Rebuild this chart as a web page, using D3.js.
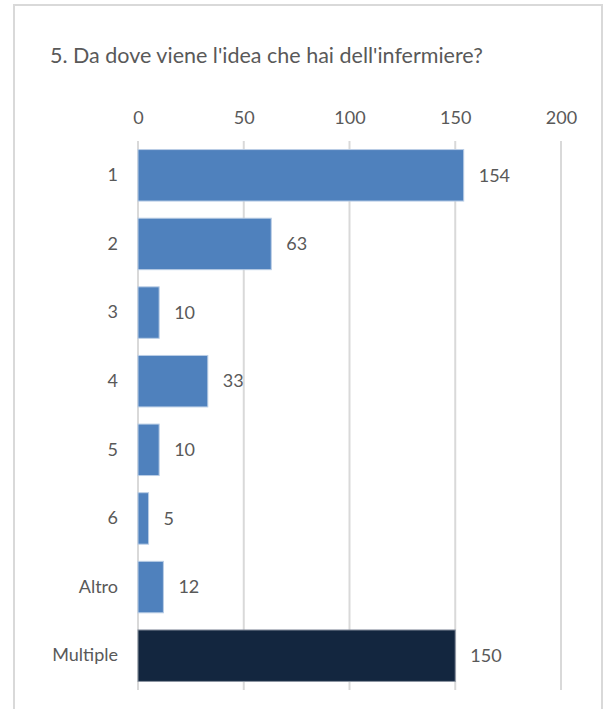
<!DOCTYPE html>
<html>
<head>
<meta charset="utf-8">
<script src="https://cdn.jsdelivr.net/npm/d3@7"></script>
<style>
  body { margin: 0; background: #fff; }
  text { font-family: Lato, "Open Sans", sans-serif; fill: #595959; }
</style>
</head>
<body>
<div id="chart"></div>
<script>
// bar chart values
const categories = ["1", "2", "3", "4", "5", "6", "Altro", "Multiple"];
const counts = [154, 63, 10, 33, 10, 5, 12, 150];
const xTicks = [0, 50, 100, 150, 200];
const chartTitle = "5. Da dove viene l'idea che hai dell'infermiere?";

const width = 606, height = 709;
const plot = { left: 138, right: 561, top: 141, bottom: 690 };

const svg = d3.select("#chart")
  .append("svg")
  .attr("width", width)
  .attr("height", height);

// outer frame (bottom edge is cut off in the original)
svg.append("rect")
  .attr("x", 14)
  .attr("y", 5)
  .attr("width", 588)
  .attr("height", 730)
  .attr("fill", "none")
  .attr("stroke", "#d9d9d9")
  .attr("stroke-width", 2);

svg.append("text")
  .attr("x", 50)
  .attr("y", 63)
  .style("font-size", "21.5px")
  .text(chartTitle);

const x = d3.scaleLinear()
  .domain([0, 200])
  .range([plot.left, plot.right]);

const y = d3.scaleBand()
  .domain(categories)
  .range([plot.top, plot.bottom])
  .paddingInner(0.25)
  .paddingOuter(0.125);

// vertical gridlines
svg.append("g")
  .selectAll("line")
  .data(xTicks)
  .enter()
  .append("line")
    .attr("x1", d => x(d))
    .attr("x2", d => x(d))
    .attr("y1", plot.top)
    .attr("y2", plot.bottom)
    .attr("stroke", "#d9d9d9")
    .attr("stroke-width", 2);

// top axis labels
const xAxis = svg.append("g")
  .attr("transform", `translate(0,${plot.top - 17})`)
  .call(d3.axisTop(x).tickValues(xTicks).tickSize(0).tickPadding(0));
xAxis.select(".domain").remove();
xAxis.selectAll("text")
  .style("font-size", "18px")
  .attr("fill", "#595959");

// category labels
const yAxis = svg.append("g")
  .attr("transform", `translate(${plot.left - 20},0)`)
  .call(d3.axisLeft(y).tickSize(0).tickPadding(0));
yAxis.select(".domain").remove();
yAxis.selectAll("text")
  .style("font-size", "18px")
  .attr("fill", "#595959");

// bars
svg.append("g")
  .selectAll("rect")
  .data(categories)
  .enter()
  .append("rect")
    .attr("x", x(0))
    .attr("y", d => y(d))
    .attr("width", (d, i) => x(counts[i]) - x(0))
    .attr("height", y.bandwidth())
    .attr("fill", d => d === "Multiple" ? "#13263f" : "#4f81bd")
    .attr("stroke", d => d === "Multiple" ? "#8a93a0" : "#b9cde5")
    .attr("stroke-width", 1);

// value labels
svg.append("g")
  .selectAll("text")
  .data(categories)
  .enter()
  .append("text")
    .attr("x", (d, i) => x(counts[i]) + 15)
    .attr("y", d => y(d) + y.bandwidth() / 2)
    .attr("dy", "0.35em")
    .style("font-size", "18px")
    .text((d, i) => counts[i]);
</script>
</body>
</html>
